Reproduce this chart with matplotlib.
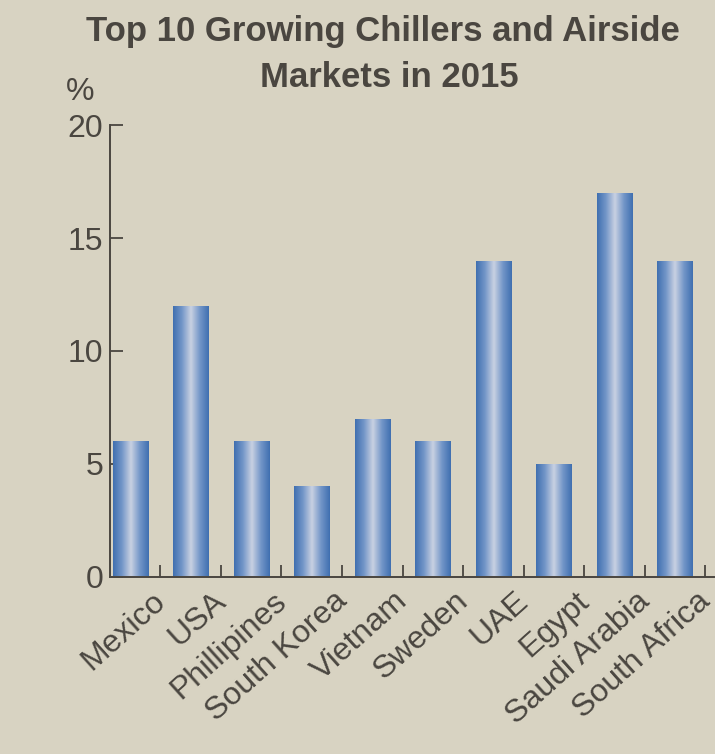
import numpy as np
import matplotlib.pyplot as plt
from matplotlib.colors import LinearSegmentedColormap
from matplotlib.patches import Rectangle

# -----------------------------
# Data
# -----------------------------
countries = [
    "Mexico", "USA", "Phillipines", "South Korea", "Vietnam",
    "Sweden", "UAE", "Egypt", "Saudi Arabia", "South Africa"
]
growth_pct = [6, 12, 6, 4, 7, 6, 14, 5, 17, 14]
y_ticks = [0, 5, 10, 15, 20]

bg = "#d8d3c2"
ink = "#4a4640"
plt.rcParams["font.family"] = ["Liberation Sans", "DejaVu Sans"]

fig = plt.figure(figsize=(7.15, 7.54), dpi=100, facecolor=bg)
ax = fig.add_axes([0.154, 0.235, 0.845, 0.599], facecolor=bg)

bar_w = 0.58
x = np.arange(len(countries))
bars = ax.bar(x, growth_pct, width=bar_w, color="none", edgecolor="none")

# horizontal gradient (dark edges, light centre) clipped to each bar
cmap = LinearSegmentedColormap.from_list(
    "chiller", ["#3f6fb0", "#7396c8", "#c9d1e2", "#7396c8", "#3f6fb0"]
)
grad = np.linspace(0, 1, 256).reshape(1, -1)
for bar in bars:
    x0, y0 = bar.get_x(), bar.get_y()
    w, h = bar.get_width(), bar.get_height()
    im = ax.imshow(grad, cmap=cmap, aspect="auto",
                   extent=[x0, x0 + w, y0, y0 + h], zorder=2)
    clip = Rectangle((x0, y0), w, h, transform=ax.transData)
    im.set_clip_path(clip)

ax.set_xlim(-0.33, 9.65)
ax.set_ylim(0, 20)

ax.set_yticks(y_ticks)
ax.set_yticklabels([str(t) for t in y_ticks], fontsize=23, color=ink)
ax.tick_params(axis="y", direction="in", length=9, width=1.3, color=ink, pad=5)

ax.set_xticks(np.arange(len(countries)) + 0.5)
ax.set_xticklabels([])
ax.tick_params(axis="x", direction="in", length=9, width=1.3, color=ink)

for i, name in enumerate(countries):
    ax.text(i + 0.35, -0.4, name, rotation=42, ha="right", va="top",
            rotation_mode="anchor", fontsize=23, color=ink)

for side in ["top", "right"]:
    ax.spines[side].set_visible(False)
for side in ["left", "bottom"]:
    ax.spines[side].set_color(ink)
    ax.spines[side].set_linewidth(1.4)

# -----------------------------
# Title & unit label
# -----------------------------
fig.text(0.535, 0.958, "Top 10 Growing Chillers and Airside",
         ha="center", va="center", fontsize=25, fontweight="bold", color=ink)
fig.text(0.545, 0.897, "Markets in 2015",
         ha="center", va="center", fontsize=25, fontweight="bold", color=ink)
fig.text(0.112, 0.878, "%", ha="center", va="center", fontsize=23, color=ink)

plt.savefig("out.png", dpi=100, facecolor=bg)
